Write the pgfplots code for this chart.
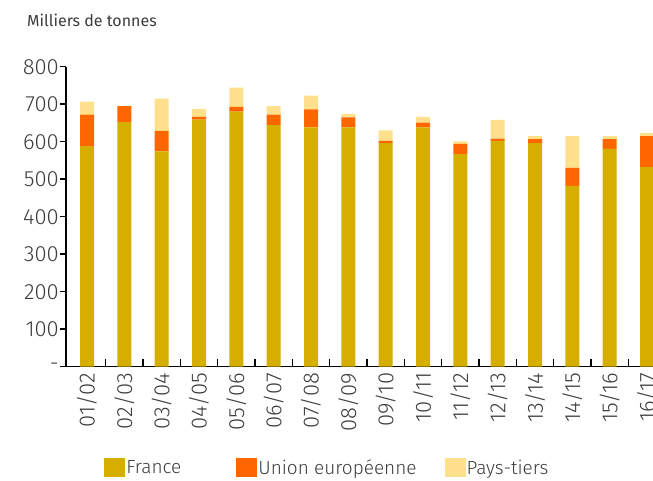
\documentclass[border=0pt]{standalone}
\usepackage{fontspec}
\setmainfont{Fira Sans}[UprightFont=* Light]
\newfontfamily\firareg{Fira Sans}
\usepackage{pgfplots}
\usepackage{pgfplotstable}
\pgfplotsset{compat=1.18}
\usetikzlibrary{calc}

\definecolor{cfr}{HTML}{D6AE00}
\definecolor{cue}{HTML}{FF6600}
\definecolor{cpt}{HTML}{FFE08C}
\definecolor{txt}{HTML}{3C3C3C}

% milliers de tonnes, par campagne (France / UE / pays-tiers)
\pgfplotstableread{
x  fr  ue  pt
1  588 84  35
2  652 43  0
3  574 55  86
4  659 7   21
5  680 13  51
6  644 28  23
7  638 48  37
8  638 27  9
9  596 6   28
10 638 13  15
11 567 27  7
12 602 6   50
13 596 11  8
14 482 48  85
15 581 26  8
16 532 83  8
}\data

\begin{document}
\begin{tikzpicture}
\begin{axis}[
  width=587pt, height=300pt, scale only axis,
  xmin=0.4375, xmax=16.16, ymin=0, ymax=800,
  ybar stacked, bar width=14pt,
  axis x line*=bottom, axis y line*=left,
  axis line style={line width=1.6pt, black},
  xtick={1,...,16},
  xticklabels={{01/02},{02/03},{03/04},{04/05},{05/06},{06/07},{07/08},{08/09},
    {09/10},{10/11},{11/12},{12/13},{13/14},{14/15},{15/16},{16/17}},
  minor xtick={1.5,2.5,...,15.5},
  ytick={0,100,...,800},
  yticklabels={-,100,200,300,400,500,600,700,800},
  tick align=outside,
  major tick length=6pt, minor tick length=8pt,
  major x tick style={draw=none},
  minor x tick style={line width=1.6pt, black, yshift=8pt},
  ytick style={line width=1.6pt, black},
  x tick label style={rotate=90, anchor=east, inner sep=0pt,
    font=\fontsize{22}{22}\selectfont, text=txt},
  y tick label style={inner sep=1pt, font=\fontsize{22}{22}\selectfont, text=txt},
  legend style={draw=none, fill=none, at={(0.06,-0.337)}, anchor=west,
    font=\fontsize{19}{19}\selectfont, text=txt,
    nodes={inner xsep=1pt},
    /tikz/every odd column/.append style={column sep=0pt},
    /tikz/column 2/.style={column sep=54pt},
    /tikz/column 4/.style={column sep=27pt}},
  legend columns=-1,
  legend image code/.code={\fill[#1] (0pt,-9.5pt) rectangle (21pt,9.5pt);},
]
\addplot[fill=cfr, draw=none] table[x=x, y=fr]{\data};
\addlegendentry{France}
\addplot[fill=cue, draw=none] table[x=x, y=ue]{\data};
\addlegendentry{Union européenne}
\addplot[fill=cpt, draw=none] table[x=x, y=pt]{\data};
\addlegendentry{Pays-tiers}
\coordinate (bl) at (rel axis cs:0,0);
\coordinate (tr) at (rel axis cs:1,1);
\coordinate (tl) at (rel axis cs:0,1);
\end{axis}
\node[anchor=base west, inner sep=0pt, text=txt,
      font=\firareg\fontsize{16}{16}\selectfont]
  at ($(tl)+(-39pt,39.7pt)$) {Milliers de tonnes};
\pgfresetboundingbox
\path[use as bounding box] ($(bl)+(-66pt,-114pt)$) rectangle ($(tr)+(0pt,66.7pt)$);
\end{tikzpicture}
\end{document}
